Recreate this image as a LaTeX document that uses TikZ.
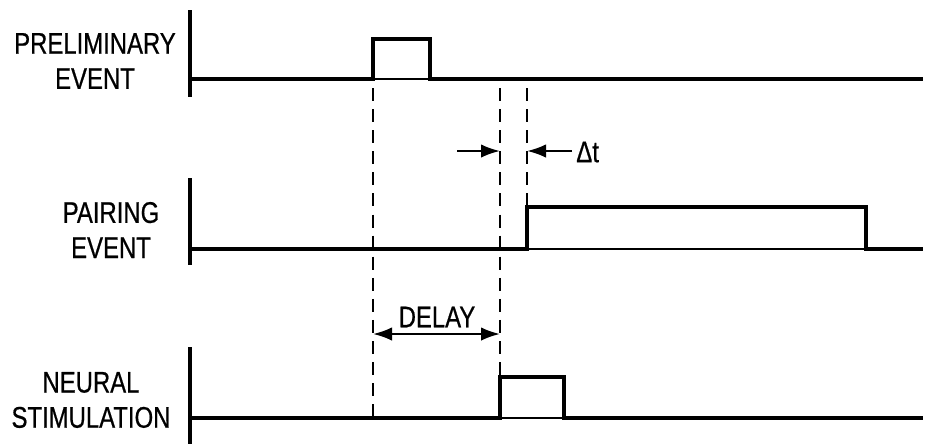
\documentclass[tikz,border=0pt]{standalone}
\usepackage{fontspec}
\setmainfont{Liberation Sans}[FakeStretch=0.8, FakeBold=0.6]
\usetikzlibrary{arrows.meta,positioning}
\tikzset{
  axisline/.style={line width=1.8pt},
  signal/.style={line width=2.4pt, line join=miter},
  thinbase/.style={line width=1.2pt},
  guide/.style={line width=1.3pt, dash pattern=on 7.4pt off 4.6pt},
  tip/.tip={Latex[length=3.8mm,width=2.7mm]},
  dimarrow/.style={-tip, line width=1.3pt},
  siglabel/.style={align=center, inner sep=0pt,
    font=\fontsize{17}{20}\selectfont}
}

\begin{document}
\begin{tikzpicture}[x=0.02cm, y=-0.02cm]
\useasboundingbox (0,0) rectangle (935,444);

% signal names
\node[siglabel] (prelim) at (95,61) {PRELIMINARY\\EVENT};
\node[siglabel] (pairing) at (111,230) {PAIRING\\EVENT};
\node[siglabel] (neural) at (91,400) {NEURAL\\STIMULATION};

% axes
\draw[axisline] (190,10) -- (190,97);
\draw[axisline] (190,178) -- (190,265);
\draw[axisline] (190,347) -- (190,444);

% traces
\draw[signal] (190,79) -- (373,79) |- (430,39) -- (430,79) -- (923,79);
\draw[thinbase] (373,79) -- (430,79);
\draw[signal] (190,249) -- (527,249) |- (866,207) -- (866,249) -- (923,249);
\draw[thinbase] (527,249) -- (866,249);
\draw[signal] (190,418) -- (500,418) |- (564,377) -- (564,418) -- (923,418);
\draw[thinbase] (500,418) -- (564,418);

% guide lines
\coordinate (onset) at (373,88);
\coordinate (onsetend) at (373,416);
\coordinate (stim) at (500,88);
\coordinate (stimend) at (500,377);
\coordinate (pair) at (527,88);
\coordinate (pairend) at (527,207);
\draw[guide] (onset) -- (onsetend);
\draw[guide] (stim) -- (stimend);
\draw[guide] (pair) -- (pairend);

% delta t
\coordinate (dtl) at (457,151);
\coordinate (dtr) at (572,151);
\draw[dimarrow] (dtl) -- (stim |- dtl);
\draw[dimarrow] (dtr) -- (pair |- dtr);
\node[siglabel, anchor=west] (dt) at (576,152) {Δt};

% delay
\coordinate (dlyl) at (373,334);
\coordinate (dlyr) at (500,334);
\draw[dimarrow, tip-tip] (dlyl) -- (dlyr);
\node[siglabel] (delay) at (437,317) {DELAY};
\end{tikzpicture}
\end{document}
